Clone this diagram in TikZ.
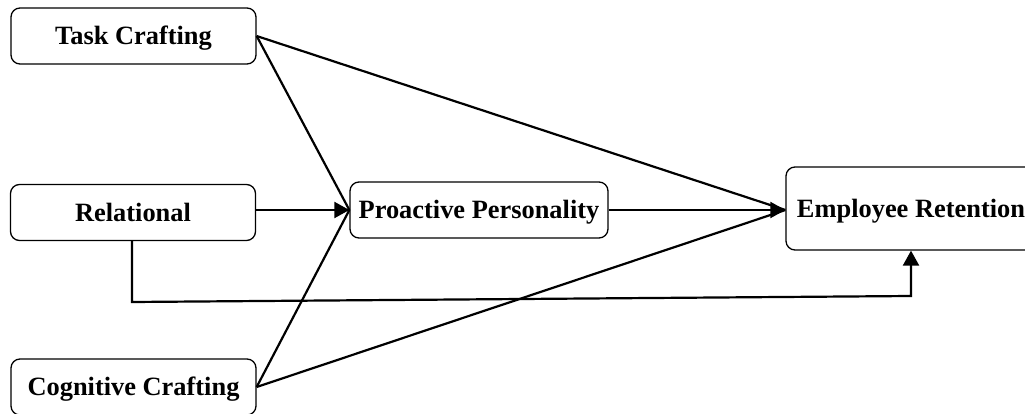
\documentclass[tikz,border=0pt]{standalone}
\usepackage{fontspec}
\setmainfont{Liberation Serif}
\usetikzlibrary{arrows.meta}
\tikzset{
    common/.style={draw, rounded corners=9pt, line width=1.3pt, inner sep=0pt,
        text height=17.5pt, text depth=0pt,
        font=\fontsize{26.4}{30}\selectfont\bfseries},
    factor/.style={common, minimum width=245pt, minimum height=56pt},
    mediator/.style={common, minimum width=258pt, minimum height=56pt},
    outcome/.style={common, minimum width=250pt, minimum height=83pt},
    link/.style={line width=2.2pt},
    link-arrow/.style={link, -{Triangle[length=15pt, width=16pt]}}
}

\begin{document}
\begin{tikzpicture}[x=1pt, y=-1pt]

      \useasboundingbox (0,0) rectangle (1025,414);

      \path
          (133.5,36) node[factor] (task) {Task Crafting}
          (133,212.5) node[factor] (rel) {Relational}
          (133.5,387) node[factor] (cog) {Cognitive Crafting}
          (479,210) node[mediator] (pro) {Proactive Personality}
          (911,208.5) node[outcome] (ret) {Employee Retention};

      \coordinate (rel-out) at (rel.east |- pro.west);
      \coordinate (ret-in) at (ret.west |- pro.west);
      \coordinate (rel-turn) at (132,302);
      \coordinate (ret-turn) at (911,296);

      \draw[link] (task.east) -- (pro.west) (cog.east) -- (pro.west);
      \draw[link] (task.east) -- (ret-in) (cog.east) -- (ret-in);
      \draw[link-arrow] (rel-out) -- (pro.west);
      \draw[link-arrow] (pro.east) -- (ret-in);
      \draw[link-arrow] (rel.south -| rel-turn) -- (rel-turn) -- (ret-turn) -- (ret.south);
    \end{tikzpicture}
\end{document}
